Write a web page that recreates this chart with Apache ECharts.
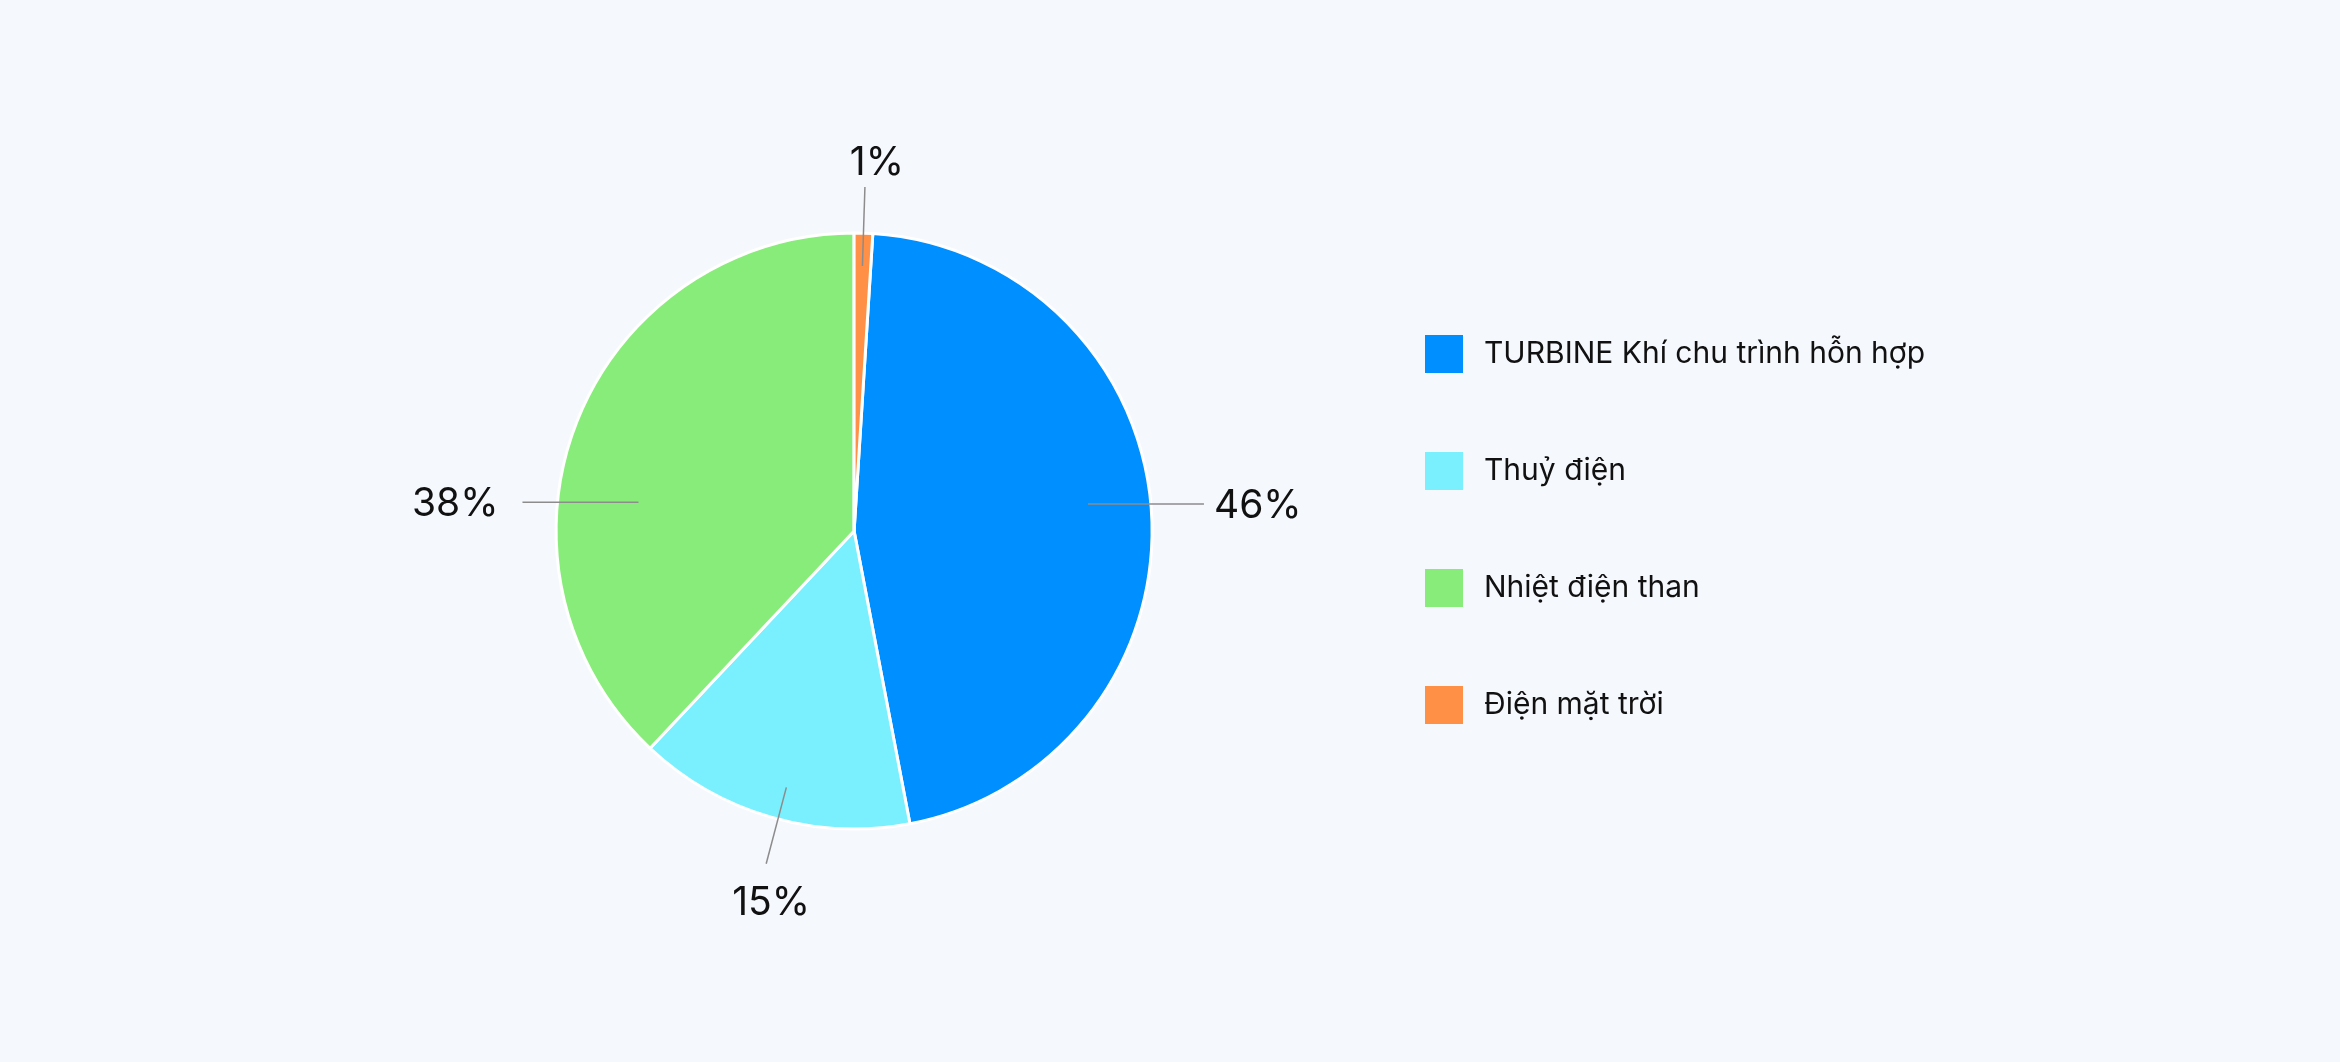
<!DOCTYPE html>
<html>
<head>
<meta charset="utf-8">
<script src="https://cdn.jsdelivr.net/npm/echarts@6/dist/echarts.min.js"></script>
<style>
html, body { margin: 0; padding: 0; background: #f5f8fd; }
#main { width: 2340px; height: 1062px; }
</style>
</head>
<body>
<div id="main"></div>
<script>
var names = ['TURBINE Khí chu trình hỗn hợp', 'Thuỷ điện', 'Nhiệt điện than', 'Điện mặt trời'];
var values = [46, 15, 38, 1];
var colors = ['#008fff', '#7af0ff', '#88ec7a', '#ff9045'];

var chart = echarts.init(document.getElementById('main'));

var total = 0;
for (var i = 0; i < values.length; i++) total += values[i];
// the small solar slice sits just right of 12 o'clock
var startAngle = 90 - values[values.length - 1] / total * 360;
var mid = [];
var a = startAngle;
for (var i = 0; i < values.length; i++) {
    var sweep = values[i] / total * 360;
    mid.push(a - sweep / 2);
    a -= sweep;
}

var R = 298, CX = 0.365, CY = 0.5;
// big slices get flat leaders, small ones follow the radius
var labelAt = [
    { angle: 6.6, r: 0.79, flat: true, gap: 10 },
    { angle: -104.8, flat: false },
    { angle: 172.4, r: 0.73, flat: true, gap: 24 },
    { flat: false }
];

var sliceData = [], labelData = [];
for (var i = 0; i < names.length; i++) {
    sliceData.push({ name: names[i], value: values[i], itemStyle: { color: colors[i] } });
    labelData.push({ name: names[i], value: values[i] });
}

function placeLabel(p) {
    var i = p.dataIndex;
    var cx = chart.getWidth() * CX, cy = chart.getHeight() * CY;
    var cfg = labelAt[i];
    var ang = (cfg.angle != null ? cfg.angle : mid[i]) * Math.PI / 180;
    var cos = Math.cos(ang), sin = Math.sin(ang);
    if (cfg.flat) {
        var r1 = R * cfg.r;
        var x1 = cx + r1 * cos, y1 = cy - r1 * sin;
        var side = cos >= 0 ? 1 : -1;
        var x2 = x1 + side * 116;
        return {
            x: x2 + side * cfg.gap,
            y: y1 + 2,
            align: side > 0 ? 'left' : 'right',
            verticalAlign: 'middle',
            labelLinePoints: [[x1, y1], [x2, y1], [x2, y1]]
        };
    }
    var p1 = [cx + R * 0.89 * cos, cy - R * 0.89 * sin];
    var p2 = [cx + R * 1.155 * cos, cy - R * 1.155 * sin];
    var up = sin > 0;
    return {
        x: p2[0] + (up ? 12 : 5),
        y: p2[1] + (up ? -4 : 20),
        align: 'center',
        verticalAlign: up ? 'bottom' : 'top',
        labelLinePoints: [p1, p2, p2]
    };
}

option = {
    backgroundColor: '#f5f8fd',
    animation: false,
    legend: {
        orient: 'vertical',
        left: 1420,
        top: 330,
        itemWidth: 38,
        itemHeight: 38,
        itemGap: 79,
        icon: 'rect',
        itemStyle: { borderWidth: 0 },
        textStyle: {
            fontFamily: 'Inter',
            fontSize: 30,
            color: '#111',
            padding: [0, 0, 0, 16]
        },
        data: names
    },
    series: [{
        type: 'pie',
        z: 2,
        center: [CX * 100 + '%', CY * 100 + '%'],
        radius: [0, R],
        startAngle: startAngle,
        clockwise: true,
        itemStyle: { borderColor: '#ffffff', borderWidth: 3 },
        label: { show: false },
        labelLine: { show: false },
        data: sliceData
    }, {
        // transparent copy on top, only for the labels and leader lines
        type: 'pie',
        z: 5,
        silent: true,
        center: [CX * 100 + '%', CY * 100 + '%'],
        radius: [0, R],
        startAngle: startAngle,
        clockwise: true,
        percentPrecision: 0,
        itemStyle: { color: 'rgba(0,0,0,0)', borderWidth: 0 },
        label: {
            show: true,
            position: 'outside',
            formatter: '{d}%',
            fontFamily: 'Inter',
            fontSize: 39,
            color: '#111'
        },
        labelLine: {
            show: true,
            lineStyle: { color: '#8c8c8c', width: 1.5 }
        },
        labelLayout: placeLabel,
        data: labelData
    }]
};

chart.setOption(option);
</script>
</body>
</html>
